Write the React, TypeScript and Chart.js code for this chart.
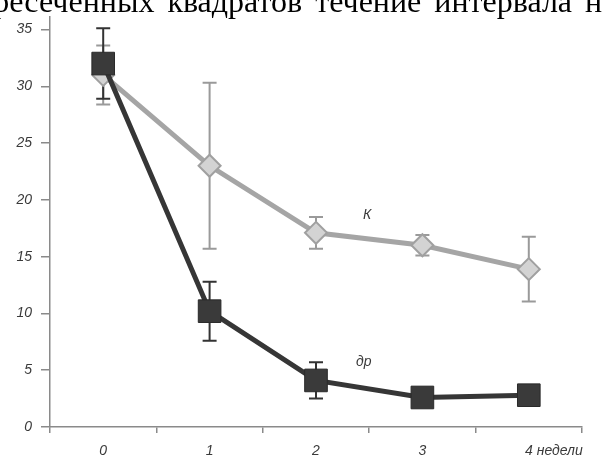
import { useEffect, useRef } from "react";
import { Chart, registerables } from "chart.js";

Chart.register(...registerables);

// Weeks of observation and the unit written after the last one
const weeks = ["0", "1", "2", "3", "4"];
const weekUnit = "недели";

// Control group (К): means and error half-widths
const controlName = "К";
const controlMeans = [31, 23, 17.1, 16, 13.9];
const controlErrors = [2.6, 7.3, 1.4, 0.9, 2.85];

// Treated group (др): means and error half-widths
const drName = "др";
const drMeans = [32, 10.2, 4.1, 2.6, 2.8];
const drErrors = [3.1, 2.6, 1.6, 0.3, 0.3];

// Value axis: the axis line runs a little above the last labelled tick
const yMin = 0;
const yMax = 36.1;
const yStep = 5;

// Caption line of the surrounding text (justified, so words are spread)
const captionWords = ["пересеченных", "квадратов", "течение", "интервала", "н"];

const SANS = '"Liberation Sans", Arial, sans-serif';
const DARK = "#363636";
const GREY = "#a5a5a5";

const errorLists = [drErrors, controlErrors];
const errorColors = ["#333333", "#9a9a9a"];
const seriesLabels = [
  { text: drName, at: 2.45, value: 5.7 },
  { text: controlName, at: 2.48, value: 18.7 },
];

const errorBarsPlugin = {
  id: "errorBars",
  beforeDatasetsDraw(chart: any) {
    const { ctx } = chart;
    const y = chart.scales.y;
    for (let d = chart.data.datasets.length - 1; d >= 0; d--) {
      const meta = chart.getDatasetMeta(d);
      const values = chart.data.datasets[d].data as number[];
      const errs = errorLists[d];
      ctx.save();
      ctx.strokeStyle = errorColors[d];
      ctx.lineWidth = 2;
      meta.data.forEach((pt: any, i: number) => {
        const e = errs[i];
        if (!e) return;
        const top = y.getPixelForValue(values[i] + e);
        const bot = y.getPixelForValue(values[i] - e);
        const cap = 7;
        ctx.beginPath();
        ctx.moveTo(pt.x, top);
        ctx.lineTo(pt.x, bot);
        ctx.moveTo(pt.x - cap, top);
        ctx.lineTo(pt.x + cap, top);
        ctx.moveTo(pt.x - cap, bot);
        ctx.lineTo(pt.x + cap, bot);
        ctx.stroke();
      });
      ctx.restore();
    }
  },
};

const annotationsPlugin = {
  id: "annotations",
  afterDraw(chart: any) {
    const { ctx } = chart;
    const x = chart.scales.x;
    const y = chart.scales.y;
    ctx.save();
    // series names next to the curves
    ctx.font = `italic 14px ${SANS}`;
    ctx.fillStyle = "#3a3a3a";
    ctx.textAlign = "center";
    ctx.textBaseline = "middle";
    seriesLabels.forEach((l) => {
      ctx.fillText(l.text, x.getPixelForValue(l.at), y.getPixelForValue(l.value));
    });
    // unit after the last week label
    const lastX = x.getPixelForTick(weeks.length - 1);
    const w = ctx.measureText(weeks[weeks.length - 1]).width;
    ctx.textAlign = "left";
    ctx.fillText(weekUnit, lastX + w / 2 + 4, x.top + 6 + 10 + 8.4);
    // caption text above the chart
    ctx.font = `32px "Liberation Serif", "Times New Roman", serif`;
    ctx.fillStyle = "#000";
    ctx.textBaseline = "alphabetic";
    const space = ctx.measureText(" ").width + 5;
    let cx = -38;
    captionWords.forEach((word) => {
      ctx.fillText(word, cx, 12);
      cx += ctx.measureText(word).width + space;
    });
    ctx.restore();
  },
};

export default function App() {
  const canvasRef = useRef<HTMLCanvasElement | null>(null);

  useEffect(() => {
    if (!canvasRef.current) return;
    const tickFont = { family: SANS, size: 14, style: "italic" as const };
    const chart = new Chart(canvasRef.current, {
      type: "line",
      data: {
        labels: weeks,
        datasets: [
          {
            label: drName,
            data: drMeans,
            borderColor: DARK,
            borderWidth: 5,
            backgroundColor: "#3a3a3a",
            pointStyle: "rect",
            pointRadius: 16,
            pointBorderColor: "#2a2a2a",
            pointBackgroundColor: "#3a3a3a",
            pointBorderWidth: 1,
            tension: 0,
          },
          {
            label: controlName,
            data: controlMeans,
            borderColor: GREY,
            borderWidth: 5,
            backgroundColor: "#d3d3d3",
            pointStyle: "rectRot",
            pointRadius: 11,
            pointBorderColor: "#a0a0a0",
            pointBackgroundColor: "#d3d3d3",
            pointBorderWidth: 2,
            tension: 0,
          },
        ],
      },
      options: {
        animation: false,
        responsive: false,
        devicePixelRatio: 1,
        layout: { padding: { top: 12, right: 22, left: 0, bottom: 0 } },
        plugins: {
          legend: { display: false },
          tooltip: { enabled: false },
        },
        scales: {
          x: {
            offset: true,
            grid: {
              offset: true,
              drawOnChartArea: false,
              drawTicks: true,
              tickLength: 6,
              color: "#8a8a8a",
              lineWidth: 1.5,
            },
            border: { display: true, color: "#8a8a8a", width: 1.5 },
            ticks: { font: tickFont, color: "#3a3a3a", padding: 10 },
            afterFit: (scale: any) => {
              scale.height = 32;
            },
          },
          y: {
            min: yMin,
            max: yMax,
            ticks: {
              stepSize: yStep,
              includeBounds: false,
              font: { ...tickFont, lineHeight: 0.4 },
              color: "#3a3a3a",
              padding: 9,
            },
            grid: {
              drawOnChartArea: false,
              drawTicks: true,
              tickLength: 9,
              color: "#8a8a8a",
              lineWidth: 1.5,
            },
            border: { display: true, color: "#8a8a8a", width: 1.5 },
            afterFit: (scale: any) => {
              scale.width = 50;
            },
          },
        },
      },
      plugins: [errorBarsPlugin, annotationsPlugin],
    });
    return () => chart.destroy();
  }, []);

  return (
    <div style={{ position: "fixed", left: 0, top: 0, width: 604, height: 459, background: "#fff" }}>
      <canvas ref={canvasRef} width={604} height={459} />
    </div>
  );
}
